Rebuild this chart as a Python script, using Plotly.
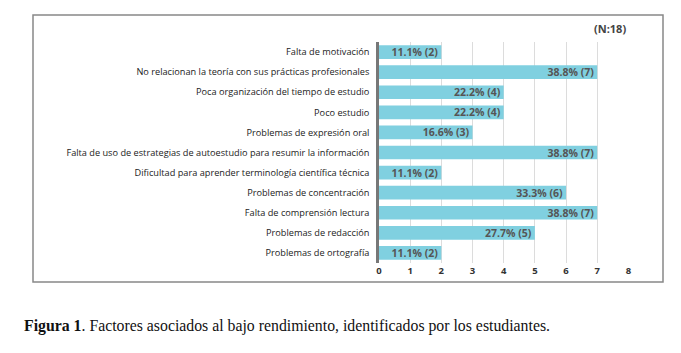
import plotly.graph_objects as go

categories = [
    "Falta de motivación",
    "No relacionan la teoría con sus prácticas profesionales",
    "Poca organización del tiempo de estudio",
    "Poco estudio",
    "Problemas de expresión oral",
    "Falta de uso de estrategias de autoestudio para resumir la información",
    "Dificultad para aprender terminología científica técnica",
    "Problemas de concentración",
    "Falta de comprensión lectura",
    "Problemas de redacción",
    "Problemas de ortografía",
]
counts = [2, 7, 4, 4, 3, 7, 2, 6, 7, 5, 2]
percents = ["11.1%", "38.8%", "22.2%", "22.2%", "16.6%", "38.8%", "11.1%", "33.3%", "38.8%", "27.7%", "11.1%"]
x_ticks = [0, 1, 2, 3, 4, 5, 6, 7, 8]

labels = [f"{p} ({c})" for p, c in zip(percents, counts)]

fig = go.Figure(go.Bar(
    y=categories, x=counts, orientation="h",
    marker=dict(color="#80d0e0", line=dict(width=0)),
    width=0.68,
    text=labels, textposition="inside", insidetextanchor="end",
    textfont=dict(family="Open Sans", size=10.5, color="#555555", weight="bold"),
    cliponaxis=False,
))

fig.update_layout(
    width=681, height=353,
    margin=dict(l=379, r=52, t=42, b=90),
    paper_bgcolor="white", plot_bgcolor="white",
    showlegend=False,
    bargap=0.3,
    xaxis=dict(range=[0, 8.02], tickvals=x_ticks, showgrid=True, gridcolor="#dcdcdc",
               gridwidth=1, zeroline=False, showline=False, ticks="",
               tickfont=dict(family="Open Sans", size=9.5, color="#333333", weight="bold"),
               fixedrange=True),
    yaxis=dict(autorange="reversed", showgrid=False, zeroline=False, showline=True,
               linecolor="#777777", linewidth=3, ticks="", ticksuffix="  ",
               tickfont=dict(family="Open Sans", size=9.2, color="#222222")),
    uniformtext=dict(minsize=8, mode="show"),
    shapes=[dict(type="rect", xref="paper", yref="paper",
                 x0=-346/250, x1=284/250, y0=-19/221, y1=248/221,
                 line=dict(color="#888888", width=1.5))],
    annotations=[
        dict(text="<b>(N:18)</b>", xref="paper", yref="paper", x=249/250, y=(263-28)/221,
             xanchor="right", yanchor="middle", showarrow=False,
             font=dict(family="Open Sans", size=11, color="#444444")),
        dict(text="<b>Figura 1</b>. Factores asociados al bajo rendimiento, identificados por los estudiantes.",
             xref="paper", yref="paper", x=-357/250, y=(263-326)/221,
             xanchor="left", yanchor="middle", showarrow=False,
             font=dict(family="Liberation Serif", size=15.8, color="#111111")),
    ],
)

fig.write_html("out.html")
